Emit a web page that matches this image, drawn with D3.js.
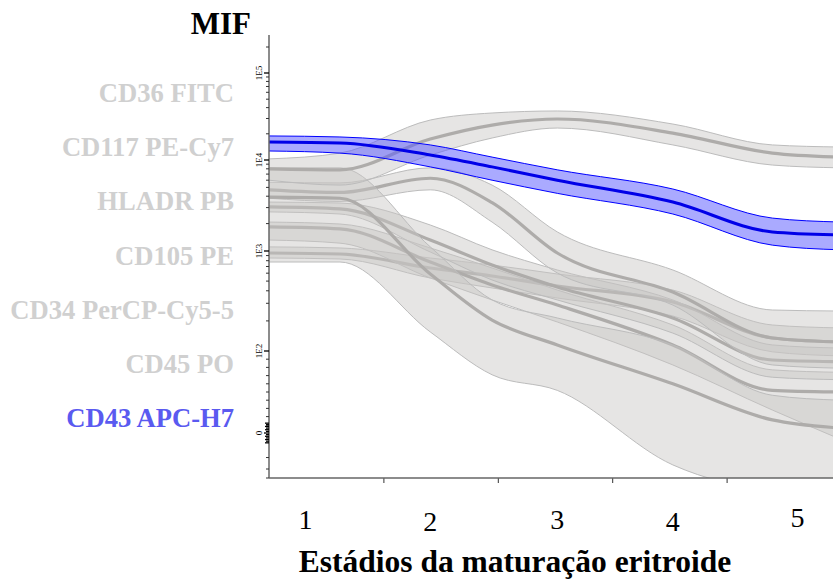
<!DOCTYPE html>
<html>
<head>
<meta charset="utf-8">
<script src="https://cdn.jsdelivr.net/npm/d3@7"></script>
<style>
  html, body { margin: 0; padding: 0; background: #fff; }
  svg { display: block; }
</style>
</head>
<body>
<div id="chart"></div>
<script>
// ── Data ────────────────────────────────────────────────────────────────────
// Stage grid (x in stage units, ticks 1..4 separate the 5 stages)
const GRID = [0, 0.62, 1.41, 1.95, 2.52, 3.53, 4.4, 5.0];

const STAGES    = ["1", "2", "3", "4", "5"];
const STAGE_POS = [0.32, 1.41, 2.52, 3.53, 4.62];
const STAGE_DY  = [0, 2, 0, 2, -2];

const MARKERS = ["CD36 FITC", "CD117 PE-Cy7", "HLADR PB", "CD105 PE",
                 "CD34 PerCP-Cy5-5", "CD45 PO", "CD43 APC-H7"];
const HIGHLIGHT = "CD43 APC-H7";

// MFI per stage point: median + upper / lower limits
const cd36Mid = [8000, 7800, 17400, 25200, 29600, 20400, 12000, 10800];
const cd36Hi  = [10300, 12000, 28800, 34700, 36600, 25900, 14900, 14100];
const cd36Lo  = [6000, 5300, 11400, 17900, 23300, 14900, 8800, 8200];

const cd117Mid = [3900, 3800, 589, 204, 115, 60, 16, 6];
const cd117Hi  = [8200, 8200, 1110, 324, 214, 115, 46, 40];
const cd117Lo  = [776, 776, 155, 71, 52, -39, -72, -79];

const hladrMid = [3050, 2900, 1320, 724, 437, 214, 89, 87];
const hladrHi  = [3450, 3370, 1930, 1030, 646, 324, 115, 107];
const hladrLo  = [2690, 2550, 977, 513, 324, 151, 68, 65];

const cd105Mid = [4700, 4400, 6300, 3400, 955, 389, 135, 123];
const cd105Hi  = [5700, 5600, 8200, 5300, 1620, 646, 257, 251];
const cd105Lo  = [3800, 3500, 4700, 2080, 603, 288, 83, 79];

const cd34Mid = [1840, 1750, 776, 457, 288, 115, 52, 50];
const cd34Hi  = [2080, 1980, 1080, 676, 407, 182, 77, 74];
const cd34Lo  = [1320, 1220, 537, 324, 195, 83, 28, -8];

const cd45Mid = [955, 933, 676, 562, 447, 309, 135, 123];
const cd45Hi  = [1110, 1080, 851, 724, 589, 407, 182, 170];
const cd45Lo  = [851, 832, 537, 427, 339, 224, 99, 94];

const cd43Mid = [16100, 15700, 11400, 8400, 6000, 3450, 1620, 1500];
const cd43Hi  = [18900, 18400, 14900, 10800, 7800, 4800, 2300, 2080];
const cd43Lo  = [12700, 12000, 8400, 6000, 4300, 2550, 1160, 1030];

const Y_MAJOR = [0, 100, 1000, 10000, 100000];
const Y_MAJOR_LABELS = ["0", "1E2", "1E3", "1E4", "1E5"];

// ── Layout ──────────────────────────────────────────────────────────────────
const W = 833, H = 580;
const X0 = 269, X1 = 833, Y0 = 35, Y1 = 478;
const SERIF = "'Liberation Serif', 'Times New Roman', serif";

const svg = d3.select("#chart").append("svg")
  .attr("width", W).attr("height", H)
  .attr("viewBox", `0 0 ${W} ${H}`);

const x = d3.scaleLinear().domain([0, 5]).range([X0, 841]);

// log above 100, linear below (cytometry-like display)
const yT = d3.scaleLinear()
  .domain([-1.1, 0, 2, 3, 4, 5, 5.44])
  .range([Y1, 433, 351, 251, 160, 73, Y0]);
function toT(v) { return v >= 100 ? Math.log10(v) : v / 50; }
const y = v => yT(toT(v));

// ── Bands ───────────────────────────────────────────────────────────────────
const series = [
  { name: "CD45 PO",          mid: cd45Mid,  hi: cd45Hi,  lo: cd45Lo  },
  { name: "CD34 PerCP-Cy5-5", mid: cd34Mid,  hi: cd34Hi,  lo: cd34Lo  },
  { name: "HLADR PB",         mid: hladrMid, hi: hladrHi, lo: hladrLo },
  { name: "CD105 PE",         mid: cd105Mid, hi: cd105Hi, lo: cd105Lo },
  { name: "CD117 PE-Cy7",     mid: cd117Mid, hi: cd117Hi, lo: cd117Lo },
  { name: "CD36 FITC",        mid: cd36Mid,  hi: cd36Hi,  lo: cd36Lo  },
  { name: "CD43 APC-H7",      mid: cd43Mid,  hi: cd43Hi,  lo: cd43Lo  },
];

svg.append("defs").append("clipPath").attr("id", "plot-clip")
  .append("rect").attr("x", X0).attr("y", Y0)
  .attr("width", X1 - X0).attr("height", Y1 - Y0);

const plot = svg.append("g").attr("clip-path", "url(#plot-clip)");

const area = d3.area()
  .x(d => x(d.t)).y0(d => y(d.lo)).y1(d => y(d.hi))
  .curve(d3.curveMonotoneX);
const line = key => d3.line()
  .x(d => x(d.t)).y(d => y(d[key]))
  .curve(d3.curveMonotoneX);

series.forEach(function (s) {
  const pts = GRID.map((t, i) => ({ t: t, mid: s.mid[i], hi: s.hi[i], lo: s.lo[i] }));
  const hl = s.name === HIGHLIGHT;
  const g = plot.append("g");

  g.append("path").datum(pts).attr("d", area)
    .attr("fill", hl ? "rgb(85,85,255)" : "rgb(200,198,196)")
    .attr("fill-opacity", hl ? 0.5 : 0.45);

  ["hi", "lo"].forEach(function (k) {
    g.append("path").datum(pts).attr("d", line(k))
      .attr("fill", "none")
      .attr("stroke", hl ? "#0000ff" : "#bcbcbc")
      .attr("stroke-width", 1);
  });

  g.append("path").datum(pts).attr("d", line("mid"))
    .attr("fill", "none")
    .attr("stroke", hl ? "#0000e8" : "#aeacaa")
    .attr("stroke-width", hl ? 3 : 3.2);
});

// ── Axes ────────────────────────────────────────────────────────────────────
const axisColor = "#666";

// Y axis
const yAx = svg.append("g");
yAx.append("line")
  .attr("x1", X0).attr("x2", X0).attr("y1", Y0).attr("y2", Y1)
  .attr("stroke", axisColor).attr("stroke-width", 1.5);

const minor = [];
[100, 1000, 10000, 100000].forEach(function (d) {
  for (let k = 2; k <= 9; k++) minor.push(d * k);
});
for (let v = 10; v < 100; v += 10) minor.push(v);
for (let v = -12; v <= 12; v += 2) if (v !== 0) minor.push(v);
minor.push(-30, -44, -55);

minor.filter(v => y(v) >= Y0 && y(v) <= Y1).forEach(function (v) {
  const near0 = Math.abs(v) <= 12;
  yAx.append("line")
    .attr("x1", X0 - (near0 ? 3 + (Math.abs(v) % 4 === 0 ? 1 : 0) : 3)).attr("x2", X0)
    .attr("y1", y(v)).attr("y2", y(v))
    .attr("stroke", near0 ? "#000" : "#333").attr("stroke-width", near0 ? 1.3 : 1);
});

Y_MAJOR.forEach(function (v, i) {
  yAx.append("line")
    .attr("x1", X0 - 5).attr("x2", X0)
    .attr("y1", y(v)).attr("y2", y(v))
    .attr("stroke", "#000").attr("stroke-width", 1.3);
  yAx.append("text")
    .attr("transform", `translate(${X0 - 7},${y(v)}) rotate(-90)`)
    .attr("text-anchor", "middle")
    .attr("font-family", SERIF).attr("font-size", 9)
    .attr("fill", "#000")
    .text(Y_MAJOR_LABELS[i]);
});

// X axis
const xAx = svg.append("g").attr("transform", `translate(0,${Y1})`)
  .call(d3.axisBottom(x).tickValues([1, 2, 3, 4]).tickSize(5).tickFormat(""));
xAx.select(".domain").remove();
xAx.selectAll(".tick line").attr("stroke", "#333").attr("stroke-width", 1);
xAx.append("line").attr("x1", X0).attr("x2", X1).attr("y1", 0).attr("y2", 0)
  .attr("stroke", axisColor).attr("stroke-width", 1.5);

STAGES.forEach(function (s, i) {
  svg.append("text")
    .attr("x", x(STAGE_POS[i])).attr("y", 529 + STAGE_DY[i])
    .attr("text-anchor", "middle")
    .attr("font-family", SERIF).attr("font-size", 28)
    .attr("fill", "#000")
    .text(s);
});

// ── Titles ──────────────────────────────────────────────────────────────────
svg.append("text")
  .attr("x", 251).attr("y", 34)
  .attr("text-anchor", "end")
  .attr("font-family", SERIF).attr("font-size", 31).attr("font-weight", "bold")
  .text("MIF");

svg.append("text")
  .attr("x", 515).attr("y", 572)
  .attr("text-anchor", "middle")
  .attr("font-family", SERIF).attr("font-size", 31.5).attr("font-weight", "bold")
  .text("Estádios da maturação eritroide");

// ── Marker legend ───────────────────────────────────────────────────────────
const legendY = d3.scalePoint().domain(MARKERS).range([102, 427]);
MARKERS.forEach(function (m) {
  svg.append("text")
    .attr("x", 234).attr("y", legendY(m))
    .attr("text-anchor", "end")
    .attr("font-family", SERIF).attr("font-size", 26.6).attr("font-weight", "bold")
    .attr("fill", m === HIGHLIGHT ? "#5a5af0" : "#d0d0d0")
    .text(m);
});
</script>
</body>
</html>
